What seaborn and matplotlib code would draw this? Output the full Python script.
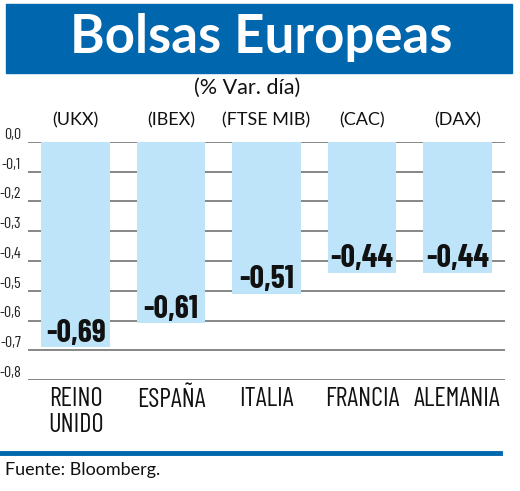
import matplotlib
matplotlib.use("Agg")
import matplotlib.pyplot as plt
import matplotlib.patches as mpatches
import seaborn as sb

# data
paises = ["REINO\nUNIDO", "ESPAÑA", "ITALIA", "FRANCIA", "ALEMANIA"]
indices = ["(UKX)", "(IBEX)", "(FTSE MIB)", "(CAC)", "(DAX)"]
variacion = [-0.69, -0.61, -0.51, -0.44, -0.44]
yticks = [0.0, -0.1, -0.2, -0.3, -0.4, -0.5, -0.6, -0.7, -0.8]

AZUL = "#0066ad"
CELESTE = "#bde4f8"
NARROW = ["Barlow Condensed", "Archivo Narrow", "DejaVu Sans"]
HUMAN = ["Lato", "DejaVu Sans"]

def coma(v, dec):
    return f"{v:.{dec}f}".replace(".", ",")

W, H = 520, 491
fig = plt.figure(figsize=(W / 100, H / 100), dpi=100)
fig.patch.set_facecolor("white")

# title box
fig.patches.append(mpatches.Rectangle((6 / W, 1 - 73 / H), 506 / W, 69 / H,
                                      transform=fig.transFigure, color=AZUL, zorder=0))
fig.text(261 / W, 1 - 38 / H, "Bolsas Europeas", color="white", fontsize=38,
         fontweight="bold", family=HUMAN, ha="center", va="center")
fig.text(247 / W, 1 - 88 / H, "(% Var. día)", fontsize=15.5, family=HUMAN,
         ha="center", va="center", color="#111111")

# axes area
ax = fig.add_axes([28 / W, 1 - 380 / H, 477 / W, 238 / H])
sb.barplot(x=paises, y=variacion, color=CELESTE, saturation=1, width=0.72,
           ax=ax, zorder=3)
ax.set_xlim(-0.5, 4.5)
ax.set_ylim(-0.8, 0)
for t in yticks:
    ax.axhline(t, color="#666666", lw=1.1, zorder=1)
for s in ax.spines.values():
    s.set_visible(False)

ax.set_yticks(yticks)
ax.set_yticklabels([coma(t, 1) for t in yticks], family=NARROW, fontsize=11.5,
                   va="bottom", color="#222222")
ax.tick_params(axis="y", length=0, pad=5)
ax.tick_params(axis="x", length=0, pad=5)
ax.set_xticks(range(len(paises)))
ax.set_xticklabels(paises, family=NARROW, fontsize=19, linespacing=1.12,
                   color="#111111")
ax.set_xlabel("")
ax.set_ylabel("")

# index codes above the bars
for i, code in enumerate(indices):
    ax.annotate(code, (i, 0), xytext=(0, 10), textcoords="offset points",
                ha="center", va="bottom", fontsize=13, family=HUMAN,
                color="#111111", annotation_clip=False)

# value labels inside bar ends
for i, v in enumerate(variacion):
    ax.annotate(coma(v, 2), (i, v), xytext=(0, 4), textcoords="offset points",
                ha="center", va="baseline", fontsize=23, fontweight="bold",
                family=NARROW, color="#111111", zorder=5)

# bottom rule and source
fig.add_artist(plt.Line2D([0, 500 / W], [1 - 453 / H, 1 - 453 / H],
                          color=AZUL, lw=3.5, transform=fig.transFigure))
fig.text(5 / W, 1 - 470 / H, "Fuente: Bloomberg.", fontsize=13, family=HUMAN,
         ha="left", va="center", color="#111111")

fig.savefig("out.png", dpi=100)
